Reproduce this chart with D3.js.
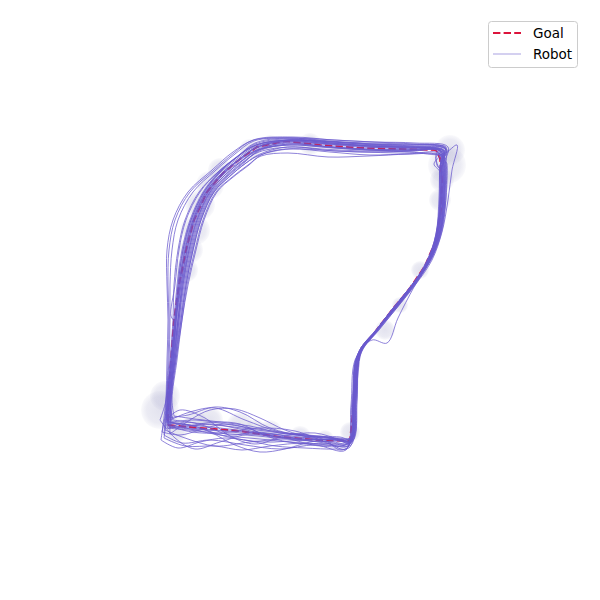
<!DOCTYPE html>
<html><head><meta charset="utf-8">
<script src="https://cdn.jsdelivr.net/npm/d3@7"></script>
<style>body{margin:0;background:#fff}svg{display:block}</style>
</head><body><svg id="c" width="600" height="600"></svg>
<script>
// Goal path (metres)
const goal = [[-13.2,-12.5],[-10.0,-12.8],[-6.0,-13.1],[-2.0,-13.7],[2.0,-14.0],[5.0,-14.1],[5.3,-11.0],[5.6,-7.5],[6.0,-5.0],[7.5,-3.2],[9.2,-1.0],[11.0,1.2],[12.5,3.4],[13.6,6.0],[14.1,9.0],[14.2,12.0],[14.0,14.2],[13.6,15.0],[10.0,15.1],[6.0,15.2],[2.0,15.5],[-1.5,15.9],[-4.3,15.3],[-6.0,14.1],[-7.7,12.7],[-9.3,10.8],[-10.6,8.0],[-11.4,5.0],[-12.1,1.5],[-12.6,-2.0],[-12.9,-6.0],[-13.2,-10.0],[-13.2,-12.5]];

// Robot runs (metres)
const run01 = [[-13.0,-12.3],[-11.0,-12.5],[-8.0,-12.8],[-4.0,-13.3],[0.0,-13.7],[3.5,-14.0],[5.1,-14.1],[5.5,-10.0],[5.9,-5.4],[7.6,-3.1],[9.6,-0.7],[11.6,1.9],[13.1,4.3],[14.0,7.1],[14.3,10.6],[14.3,13.6],[14.1,14.9],[11.0,15.1],[7.0,15.3],[3.0,15.6],[-1.0,15.9],[-4.3,15.3],[-6.2,14.0],[-7.9,12.6],[-9.4,10.8],[-10.7,8.0],[-11.5,5.0],[-12.1,1.5],[-12.4,-2.0],[-12.8,-6.0],[-13.2,-10.0],[-13.3,-12.6]];
const run02 = [[-13.5,-13.0],[-11.5,-13.8],[-8.5,-14.6],[-5.0,-14.2],[-1.0,-13.9],[2.5,-14.3],[4.8,-14.6],[5.3,-10.2],[5.7,-5.8],[7.3,-3.5],[9.3,-1.1],[11.3,1.5],[12.8,3.9],[13.7,6.8],[14.0,10.3],[14.0,13.4],[14.6,15.1],[11.2,15.4],[7.2,15.6],[3.0,15.9],[-1.2,16.2],[-4.5,15.7],[-6.3,14.3],[-8.2,12.8],[-10.1,10.8],[-11.5,8.0],[-12.2,5.0],[-12.6,1.5],[-12.7,-2.0],[-13.0,-6.0],[-13.3,-10.0],[-13.5,-13.0]];
const run03 = [[-13.0,-12.0],[-11.0,-11.2],[-8.5,-10.8],[-5.5,-12.0],[-2.0,-13.2],[2.0,-13.6],[4.9,-13.9],[5.4,-9.8],[5.9,-5.2],[7.8,-2.8],[9.9,-0.4],[11.8,2.1],[13.3,4.5],[14.2,7.3],[14.5,10.8],[14.4,13.8],[14.3,15.0],[11.3,14.9],[7.3,14.8],[3.3,14.9],[-0.8,15.3],[-4.1,14.8],[-5.7,13.8],[-7.4,12.4],[-8.9,10.8],[-10.2,8.0],[-11.0,5.0],[-11.7,1.5],[-12.1,-2.0],[-12.6,-6.0],[-13.0,-10.0],[-13.0,-12.0]];
const run04 = [[-13.6,-13.5],[-11.8,-14.3],[-9.0,-14.0],[-5.5,-14.5],[-2.0,-14.9],[1.5,-14.5],[4.6,-15.0],[5.1,-10.5],[5.5,-6.0],[7.0,-3.8],[9.0,-1.4],[11.0,1.1],[12.6,3.6],[13.6,6.5],[14.0,10.0],[14.2,13.2],[14.8,15.3],[11.5,15.7],[7.5,15.8],[3.5,16.0],[-0.5,16.2],[-4.6,16.0],[-6.7,14.8],[-8.8,13.0],[-11.2,10.8],[-12.7,8.0],[-13.3,5.0],[-13.3,1.5],[-13.2,-2.0],[-13.3,-6.0],[-13.4,-10.0],[-13.6,-13.5]];
const run05 = [[-12.8,-12.2],[-10.5,-12.0],[-7.5,-12.4],[-3.5,-13.0],[0.5,-13.5],[3.8,-13.8],[5.2,-13.8],[5.6,-9.8],[6.1,-5.2],[7.9,-3.0],[9.9,-0.5],[11.9,2.1],[13.4,4.6],[14.3,7.4],[14.6,10.8],[14.6,13.6],[14.2,14.5],[11.0,14.6],[7.0,14.5],[3.0,14.8],[-1.0,15.1],[-4.0,14.5],[-5.4,13.7],[-7.1,12.3],[-8.6,10.8],[-9.9,8.0],[-10.7,5.0],[-11.4,1.5],[-11.9,-2.0],[-12.5,-6.0],[-12.9,-10.0],[-12.8,-12.2]];
const run06 = [[-13.4,-12.0],[-12.0,-11.0],[-9.5,-11.8],[-7.0,-13.6],[-4.5,-14.4],[-1.5,-13.6],[1.5,-13.3],[4.0,-14.0],[5.0,-14.4],[5.4,-10.0],[5.8,-5.5],[7.4,-3.4],[9.4,-0.9],[11.4,1.6],[12.9,4.0],[13.8,6.9],[14.1,10.4],[14.1,13.5],[14.4,15.0],[11.1,15.2],[7.1,15.4],[3.1,15.7],[-1.1,16.0],[-4.4,15.4],[-6.3,14.1],[-8.0,12.7],[-9.5,10.8],[-10.8,8.0],[-11.6,5.0],[-12.1,1.5],[-12.5,-2.0],[-12.8,-6.0],[-13.2,-10.0],[-13.4,-12.0]];
const run07 = [[-13.1,-12.6],[-10.8,-13.2],[-7.8,-13.3],[-4.2,-12.8],[-0.5,-13.1],[3.0,-14.4],[4.6,-14.9],[5.2,-10.1],[5.7,-5.6],[7.5,-3.3],[9.5,-0.8],[11.5,1.8],[13.0,4.2],[14.0,7.0],[14.4,10.5],[14.5,13.4],[14.2,14.9],[11.1,14.9],[7.1,15.0],[3.2,15.2],[-0.9,15.5],[-4.2,15.0],[-5.9,13.9],[-7.6,12.6],[-9.1,10.8],[-10.4,8.0],[-11.2,5.0],[-11.8,1.5],[-12.2,-2.0],[-12.7,-6.0],[-13.1,-10.0],[-13.1,-12.6]];
const run08 = [[-13.3,-12.8],[-11.2,-13.0],[-8.2,-13.3],[-4.2,-13.6],[-0.2,-14.0],[3.3,-14.2],[5.0,-14.3],[5.4,-10.0],[5.7,-5.7],[7.2,-4.0],[8.7,-4.3],[9.8,-1.8],[11.4,1.3],[12.9,3.9],[13.8,6.8],[14.2,10.3],[14.3,13.5],[14.1,14.9],[11.0,15.2],[7.0,15.4],[3.0,15.7],[-1.0,16.0],[-4.3,15.3],[-6.1,14.0],[-7.8,12.6],[-9.3,10.8],[-10.6,8.0],[-11.4,5.0],[-12.0,1.5],[-12.4,-2.0],[-12.7,-6.0],[-13.1,-10.0],[-13.3,-12.8]];
const run09 = [[-13.2,-12.4],[-11.0,-12.9],[-8.0,-13.5],[-4.0,-13.9],[0.0,-14.3],[3.5,-14.4],[5.1,-14.5],[5.5,-10.1],[5.9,-5.6],[7.6,-3.3],[9.6,-0.9],[11.6,1.6],[13.2,4.0],[14.2,6.8],[14.8,10.0],[15.2,13.0],[15.7,15.5],[14.3,14.6],[11.0,14.8],[7.0,15.0],[3.0,15.3],[-1.0,15.7],[-4.2,15.1],[-5.8,13.9],[-7.5,12.5],[-9.0,10.8],[-10.3,8.0],[-11.1,5.0],[-11.7,1.5],[-12.2,-2.0],[-12.6,-6.0],[-13.0,-10.0],[-13.2,-12.4]];
const run10 = [[-12.9,-12.3],[-10.6,-12.6],[-7.6,-13.6],[-3.6,-14.2],[0.4,-14.0],[3.7,-13.9],[5.2,-14.0],[5.6,-9.9],[6.0,-5.3],[7.7,-3.0],[9.7,-0.6],[11.7,2.0],[13.2,4.4],[14.1,7.2],[14.4,10.7],[14.4,13.7],[13.9,14.7],[10.8,14.6],[6.8,14.4],[2.8,14.3],[-1.2,14.7],[-3.9,14.4],[-5.2,13.5],[-6.9,12.2],[-8.4,10.8],[-9.7,8.0],[-10.5,5.0],[-11.3,1.5],[-11.8,-2.0],[-12.4,-6.0],[-12.9,-10.0],[-12.9,-12.3]];
const run11 = [[-13.4,-11.8],[-11.2,-11.5],[-8.5,-10.7],[-6.0,-11.2],[-3.0,-12.8],[0.5,-13.6],[4.0,-13.7],[5.3,-14.0],[5.7,-9.9],[6.1,-5.1],[7.8,-2.9],[9.8,-0.5],[11.8,2.0],[13.3,4.5],[14.2,7.2],[14.5,10.7],[14.6,13.5],[14.5,15.1],[11.3,15.3],[7.3,15.5],[3.3,15.8],[-0.7,16.0],[-4.4,15.5],[-6.4,14.2],[-8.1,12.7],[-9.6,10.8],[-10.9,8.0],[-11.7,5.0],[-12.2,1.5],[-12.5,-2.0],[-12.9,-6.0],[-13.2,-10.0],[-13.4,-11.8]];
const run12 = [[-13.6,-13.8],[-11.5,-14.6],[-8.5,-14.6],[-5.8,-15.0],[-3.0,-14.6],[0.5,-14.3],[3.8,-14.6],[4.9,-14.5],[5.3,-10.2],[5.7,-5.7],[7.3,-3.6],[9.2,-1.2],[11.2,1.4],[12.7,3.8],[13.6,6.6],[13.9,10.2],[14.0,13.3],[14.3,14.9],[11.0,15.0],[7.0,15.1],[3.0,15.3],[-1.0,15.6],[-4.3,15.0],[-6.0,14.0],[-7.7,12.6],[-9.2,10.8],[-10.5,8.0],[-11.3,5.0],[-11.9,1.5],[-12.3,-2.0],[-12.7,-6.0],[-13.1,-10.0],[-13.6,-13.8]];
const run13 = [[-13.1,-12.7],[-11.0,-12.9],[-8.0,-13.1],[-4.0,-13.5],[0.0,-13.9],[3.5,-14.0],[5.0,-14.1],[5.4,-9.9],[5.8,-5.4],[7.5,-3.1],[9.5,-0.7],[11.5,1.9],[13.0,4.3],[13.9,7.0],[14.1,10.5],[14.0,12.8],[13.4,13.6],[14.2,14.6],[14.6,15.3],[11.2,15.5],[7.2,15.6],[3.2,15.8],[-0.9,16.0],[-4.4,15.5],[-6.5,14.2],[-8.2,12.7],[-9.7,10.8],[-11.0,8.0],[-11.8,5.0],[-12.3,1.5],[-12.6,-2.0],[-12.9,-6.0],[-13.3,-10.0],[-13.1,-12.7]];
const run14 = [[-12.7,-12.0],[-10.5,-12.3],[-7.5,-12.6],[-3.5,-13.1],[0.5,-13.6],[4.0,-13.9],[5.2,-14.2],[5.6,-10.0],[6.0,-5.4],[7.7,-3.1],[9.7,-0.7],[11.7,1.9],[13.2,4.3],[14.1,7.1],[14.3,10.5],[14.2,12.9],[13.8,13.4],[13.6,14.6],[14.0,15.1],[10.9,15.3],[6.9,15.4],[2.9,15.6],[-1.1,15.8],[-4.1,15.0],[-5.5,13.8],[-7.2,12.4],[-8.7,10.8],[-10.0,8.0],[-10.8,5.0],[-11.5,1.5],[-12.0,-2.0],[-12.5,-6.0],[-13.0,-10.0],[-12.7,-12.0]];
const run15 = [[-14.0,-12.0],[-12.5,-13.8],[-10.5,-14.9],[-8.0,-14.2],[-5.0,-13.4],[-1.5,-13.8],[2.0,-14.6],[4.8,-14.3],[5.3,-10.0],[5.6,-5.9],[7.1,-3.7],[9.1,-1.3],[11.1,1.3],[12.7,3.7],[13.7,6.6],[14.1,10.2],[14.2,13.3],[14.5,15.2],[11.3,15.6],[7.3,15.8],[3.3,16.0],[-0.7,16.3],[-4.7,16.0],[-6.6,14.7],[-8.7,12.9],[-11.0,10.8],[-12.5,8.0],[-13.1,5.0],[-13.2,1.5],[-13.1,-2.0],[-13.2,-6.0],[-13.4,-10.0],[-14.0,-12.0]];
const run16 = [[-13.2,-12.9],[-11.5,-12.2],[-9.5,-12.6],[-7.0,-13.5],[-4.5,-13.2],[-2.0,-13.5],[1.0,-14.1],[3.8,-14.1],[5.0,-14.0],[5.3,-11.0],[5.6,-7.5],[6.0,-5.0],[7.6,-3.0],[9.3,-0.8],[11.1,1.4],[12.6,3.6],[13.7,6.2],[14.2,9.0],[14.3,12.0],[14.1,14.3],[13.7,15.1],[10.0,15.2],[6.0,15.3],[2.0,15.6],[-1.5,15.8],[-4.3,15.2],[-6.1,14.0],[-7.7,12.6],[-9.2,10.8],[-10.6,8.0],[-11.3,5.0],[-11.9,1.5],[-12.4,-2.0],[-12.7,-6.0],[-13.1,-10.0],[-13.2,-12.9]];
const run17 = [[-12.6,-11.6],[-10.5,-11.9],[-8.0,-12.2],[-5.0,-12.6],[-2.0,-13.3],[1.5,-13.7],[4.5,-13.9],[5.4,-13.6],[5.7,-10.0],[6.0,-5.6],[7.7,-3.0],[9.5,-0.6],[11.3,1.6],[12.8,3.8],[13.9,6.4],[14.4,9.2],[14.5,12.2],[14.4,14.1],[13.5,14.6],[10.0,14.7],[6.0,14.8],[2.0,15.0],[-1.5,15.1],[-3.9,14.5],[-5.1,13.5],[-6.8,12.2],[-8.3,10.8],[-9.6,8.0],[-10.4,5.0],[-11.2,1.5],[-11.8,-2.0],[-12.3,-6.0],[-12.8,-10.0],[-12.6,-11.6]];
const run18 = [[-13.8,-13.2],[-12.0,-13.5],[-10.0,-13.0],[-7.5,-12.4],[-5.0,-12.9],[-2.5,-13.9],[0.5,-14.4],[3.5,-14.5],[4.9,-14.3],[5.2,-11.0],[5.5,-7.5],[5.9,-5.1],[7.4,-3.3],[9.1,-1.1],[10.9,1.1],[12.4,3.3],[13.5,5.9],[14.0,8.9],[14.1,11.9],[14.2,14.0],[14.8,14.9],[13.8,15.4],[10.0,15.5],[6.0,15.6],[2.0,15.9],[-1.5,16.1],[-4.5,15.6],[-6.3,14.3],[-8.2,12.8],[-10.0,10.8],[-11.4,8.0],[-12.1,5.0],[-12.5,1.5],[-12.9,-1.6],[-12.5,-2.3],[-12.9,-6.0],[-13.2,-10.0],[-13.8,-13.2]];
const run19 = [[-13.0,-13.4],[-11.0,-12.0],[-9.0,-11.0],[-6.5,-10.9],[-4.0,-11.8],[-1.5,-13.0],[1.5,-13.9],[4.2,-14.4],[5.1,-14.2],[5.4,-11.0],[5.7,-7.4],[6.1,-4.9],[7.6,-3.1],[9.3,-0.9],[11.1,1.3],[12.6,3.5],[13.7,6.1],[14.2,9.1],[14.3,12.1],[14.2,14.2],[13.9,15.0],[10.3,15.0],[6.3,15.1],[2.3,15.4],[-1.2,15.6],[-4.1,14.9],[-5.6,13.8],[-7.3,12.4],[-8.8,10.8],[-10.1,8.0],[-10.9,5.0],[-11.6,1.5],[-12.1,-2.0],[-12.5,-6.0],[-13.0,-10.0],[-13.0,-13.4]];
const run20 = [[-13.4,-12.2],[-11.5,-12.4],[-9.0,-13.2],[-6.5,-14.5],[-4.0,-15.2],[-1.5,-14.9],[1.0,-14.2],[3.5,-13.9],[5.1,-14.1],[5.4,-11.0],[5.7,-7.6],[6.0,-5.2],[7.4,-3.4],[9.1,-1.2],[10.9,1.0],[12.4,3.2],[13.5,5.8],[14.0,8.8],[14.2,11.8],[14.1,14.0],[14.4,14.9],[10.2,15.3],[6.2,15.4],[2.2,15.7],[-1.3,15.9],[-4.3,15.3],[-6.2,14.0],[-7.9,12.6],[-9.4,10.8],[-10.7,8.0],[-11.5,5.0],[-12.0,1.5],[-12.4,-2.0],[-12.8,-6.0],[-13.2,-10.0],[-13.4,-12.2]];
const run21 = [[-12.9,-12.6],[-11.0,-12.8],[-8.5,-13.0],[-5.5,-13.2],[-2.5,-13.6],[0.5,-13.9],[3.5,-14.0],[5.0,-14.2],[5.4,-11.0],[5.7,-7.5],[6.1,-5.0],[7.7,-2.9],[9.4,-0.7],[11.2,1.5],[12.8,3.7],[13.9,6.3],[14.5,9.2],[14.7,12.2],[14.6,13.8],[13.9,13.2],[13.6,14.3],[14.3,15.0],[10.4,15.0],[6.4,15.0],[2.4,15.3],[-1.1,15.5],[-4.1,15.0],[-5.8,13.9],[-7.5,12.5],[-9.0,10.8],[-10.3,8.0],[-11.1,5.0],[-11.8,1.5],[-12.2,-2.0],[-12.6,-6.0],[-13.0,-10.0],[-12.9,-12.6]];
const run22 = [[-13.3,-12.1],[-11.3,-12.6],[-8.8,-12.4],[-6.0,-12.9],[-3.0,-13.4],[0.0,-13.4],[2.5,-14.0],[4.0,-15.0],[4.9,-14.6],[5.3,-11.0],[5.6,-7.5],[6.0,-5.1],[7.5,-3.2],[9.2,-1.0],[11.0,1.2],[12.5,3.4],[13.6,6.0],[14.1,9.0],[14.2,12.0],[14.0,14.2],[13.6,15.0],[10.0,15.4],[6.0,15.5],[2.0,15.8],[-1.5,16.0],[-4.4,15.5],[-6.4,14.2],[-8.1,12.7],[-9.6,10.8],[-10.9,8.0],[-11.7,5.0],[-12.2,1.5],[-12.5,-2.0],[-12.9,-6.0],[-13.3,-10.0],[-13.3,-12.1]];
const run23 = [[-13.0,-12.8],[-11.2,-12.6],[-8.5,-12.2],[-6.0,-12.4],[-3.5,-13.5],[-0.5,-13.8],[2.5,-13.7],[4.5,-14.0],[5.2,-13.8],[5.5,-11.0],[5.8,-7.4],[6.2,-5.0],[7.8,-2.8],[9.5,-0.6],[11.2,1.5],[12.7,3.6],[13.8,6.2],[14.3,9.1],[14.4,12.1],[14.3,14.0],[14.0,14.9],[10.2,14.9],[6.2,14.9],[2.2,15.1],[-1.3,15.3],[-4.0,14.6],[-5.4,13.7],[-7.1,12.3],[-8.6,10.8],[-9.9,8.0],[-10.7,5.0],[-11.4,1.5],[-11.9,-2.0],[-12.4,-6.0],[-12.9,-10.0],[-13.0,-12.8]];
const run24 = [[-13.9,-14.0],[-12.2,-14.8],[-10.0,-14.2],[-7.5,-13.8],[-5.0,-14.1],[-2.5,-14.6],[0.5,-14.8],[3.5,-14.9],[5.0,-14.7],[5.3,-11.0],[5.6,-7.5],[5.9,-5.3],[7.3,-3.5],[9.0,-1.2],[10.8,1.0],[12.3,3.2],[13.4,5.8],[13.9,8.8],[14.0,11.9],[14.1,14.0],[14.6,15.2],[10.5,15.6],[6.5,15.7],[2.5,15.9],[-1.0,16.2],[-4.6,15.9],[-6.5,14.6],[-8.5,12.9],[-10.7,10.8],[-12.2,8.0],[-12.8,5.0],[-13.0,1.5],[-13.0,-2.0],[-13.1,-6.0],[-13.4,-10.0],[-13.9,-14.0]];
const runs = [run01,run02,run03,run04,run05,run06,run07,run08,run09,run10,run11,run12,run13,run14,run15,run16,run17,run18,run19,run20,run21,run22,run23,run24];

// Position uncertainty (centre x, centre y, radius) in metres
const uncertainty = [[-14.0,-11.0,1.9],[-13.5,-9.6,1.5],[-12.5,-13.0,1.3],[-10.5,-12.2,1.2],[-9.0,-12.0,1.3],[-6.0,-12.5,1.3],[-4.5,-13.0,1.1],[-3.0,-13.2,1.2],[0.0,-13.7,1.1],[2.5,-13.9,0.9],[5.0,-13.2,1.0],[14.7,13.5,1.9],[15.0,15.0,1.5],[14.2,12.0,1.2],[14.0,10.0,1.1],[-8.0,13.0,1.2],[-9.0,11.5,1.4],[-10.0,9.5,1.5],[-10.5,7.0,1.5],[-11.0,5.0,1.3],[-11.4,3.0,1.2],[-5.0,15.0,1.1],[-3.0,15.5,1.0],[1.0,15.6,1.1],[8.5,-3.0,1.0],[12.0,3.0,0.9],[10.0,-0.5,0.8]];

const legendLabels = ["Goal","Robot"];

const svg = d3.select("#c");
const x = d3.scaleLinear().domain([-30,30]).range([0,600]);
const y = d3.scaleLinear().domain([-30,30]).range([600,0]);

const defs = svg.append("defs");
const grad = defs.append("radialGradient").attr("id","blob");
grad.append("stop").attr("offset","0%").attr("stop-color","#9a9ac4").attr("stop-opacity",0.28);
grad.append("stop").attr("offset","70%").attr("stop-color","#9a9ac4").attr("stop-opacity",0.2);
grad.append("stop").attr("offset","100%").attr("stop-color","#9a9ac4").attr("stop-opacity",0.05);

svg.append("g").selectAll("circle").data(uncertainty).join("circle")
  .attr("cx", d => x(d[0])).attr("cy", d => y(d[1]))
  .attr("r", d => x(d[2]) - x(0))
  .attr("fill", "url(#blob)");

const goalLine = d3.line().x(d => x(d[0])).y(d => y(d[1]));
svg.append("path").datum(goal).attr("d", goalLine)
  .attr("fill","none").attr("stroke","#dc143c").attr("stroke-width",2)
  .attr("stroke-dasharray","7.4,3.2");

const runLine = d3.line().x(d => x(d[0])).y(d => y(d[1])).curve(d3.curveCatmullRom.alpha(0.5));
svg.append("g").selectAll("path").data(runs).join("path")
  .attr("d", runLine).attr("fill","none")
  .attr("stroke","#6a5acd").attr("stroke-width",1).attr("stroke-opacity",0.75);

// Legend
const lg = svg.append("g");
lg.append("rect").attr("x",488.5).attr("y",21.5).attr("width",89).attr("height",46).attr("rx",3)
  .attr("fill","#fff").attr("fill-opacity",0.8).attr("stroke","#cccccc").attr("stroke-width",1);
lg.append("line").attr("x1",493).attr("x2",521).attr("y1",33).attr("y2",33)
  .attr("stroke","#dc143c").attr("stroke-width",2).attr("stroke-dasharray","7.4,3.2");
lg.append("line").attr("x1",493).attr("x2",521).attr("y1",54).attr("y2",54)
  .attr("stroke","#6a5acd").attr("stroke-width",0.8).attr("stroke-opacity",0.72);
lg.selectAll("text").data(legendLabels).join("text")
  .attr("x",533).attr("y",(d,i)=>38 + i*21)
  .attr("font-family","DejaVu Sans").attr("font-size",13.5).attr("fill","#000")
  .text(d=>d);
</script></body></html>
